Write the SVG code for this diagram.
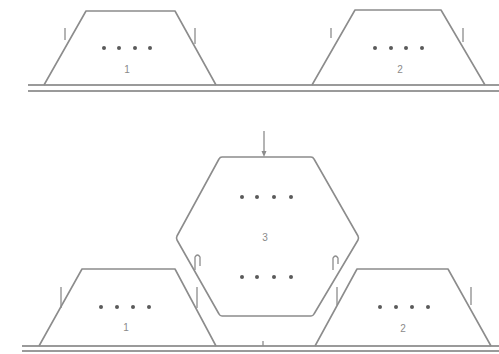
<svg xmlns="http://www.w3.org/2000/svg" width="499" height="354" viewBox="0 0 499 354">
<style>
.s{fill:none;stroke:#8c8c8c;stroke-width:1.6;stroke-linejoin:round}
.g{fill:none;stroke:#9a9a9a;stroke-width:1.8}
.t{fill:none;stroke:#8c8c8c;stroke-width:1.3}
.d{fill:#5a5a5a}
.l{font-family:"Liberation Sans",Arial,sans-serif;font-size:10px;fill:#8a8a8a;text-anchor:middle}
</style>
<rect width="499" height="354" fill="#ffffff"/>
<g id="ground-top">
<line class="g" x1="28" y1="85" x2="499" y2="85"/>
<line class="g" x1="28" y1="91" x2="499" y2="91"/>
</g>
<g id="ground-bottom">
<line class="g" x1="22" y1="346" x2="499" y2="346"/>
<line class="g" x1="22" y1="351" x2="499" y2="351"/>
</g>
<g id="top-node-1">
<path class="s" d="M44,85 L86,11 L175,11 L216,85"/>
<circle class="d" cx="104" cy="48" r="2"/><circle class="d" cx="119" cy="48" r="2"/><circle class="d" cx="135" cy="48" r="2"/><circle class="d" cx="150" cy="48" r="2"/>
<text class="l" x="127" y="73">1</text>
</g>
<g id="top-node-2">
<path class="s" d="M312,85 L355,10 L441,10 L485,85"/>
<circle class="d" cx="375" cy="48" r="2"/><circle class="d" cx="391" cy="48" r="2"/><circle class="d" cx="406" cy="48" r="2"/><circle class="d" cx="422" cy="48" r="2"/>
<text class="l" x="400" y="73">2</text>
</g>
<g id="node-3">
<path class="s" d="M222,157 L311,157 Q313,157 314,159 L358,236 Q359,238 358,240 L314,314 Q313,316 311,316 L222,316 Q220,316 219,314 L177,240 Q176,238 177,236 L219,159 Q220,157 222,157 Z"/>
<circle class="d" cx="242" cy="197" r="2"/><circle class="d" cx="257" cy="197" r="2"/><circle class="d" cx="274" cy="197" r="2"/><circle class="d" cx="291" cy="197" r="2"/>
<text class="l" x="265" y="241">3</text>
<circle class="d" cx="242" cy="277" r="2"/><circle class="d" cx="257" cy="277" r="2"/><circle class="d" cx="274" cy="277" r="2"/><circle class="d" cx="291" cy="277" r="2"/>
</g>
<g id="bottom-node-1">
<path class="s" d="M39,346 L82,269 L175,269 L216,346"/>
<circle class="d" cx="101" cy="307" r="2"/><circle class="d" cx="117" cy="307" r="2"/><circle class="d" cx="133" cy="307" r="2"/><circle class="d" cx="149" cy="307" r="2"/>
<text class="l" x="126" y="331">1</text>
</g>
<g id="bottom-node-2">
<path class="s" d="M315,346 L357,269 L448,269 L491,346"/>
<circle class="d" cx="380" cy="307" r="2"/><circle class="d" cx="396" cy="307" r="2"/><circle class="d" cx="412" cy="307" r="2"/><circle class="d" cx="428" cy="307" r="2"/>
<text class="l" x="403" y="332">2</text>
</g>
<g id="connectors">
<line class="t" x1="65" y1="28" x2="65" y2="40"/>
<line class="t" x1="195" y1="28" x2="195" y2="44"/>
<line class="t" x1="331" y1="28" x2="331" y2="38"/>
<line class="t" x1="463" y1="28" x2="463" y2="42"/>
<line class="t" x1="264" y1="131" x2="264" y2="153"/>
<path d="M261.5,151 L264,157 L266.5,151 Z" fill="#8c8c8c"/>
<line class="t" x1="61" y1="287" x2="61" y2="308"/>
<line class="t" x1="197" y1="287" x2="197" y2="308"/>
<line class="t" x1="337" y1="287" x2="337" y2="305"/>
<line class="t" x1="471" y1="287" x2="471" y2="305"/>
<path class="t" d="M195,270 L195,257 Q197.5,253 200,257 L200,266"/>
<path class="t" d="M333,270 L333,258 Q335.5,254 338,258 L338,264"/>
<line class="t" x1="263" y1="341" x2="263" y2="346"/>
</g>
</svg>
